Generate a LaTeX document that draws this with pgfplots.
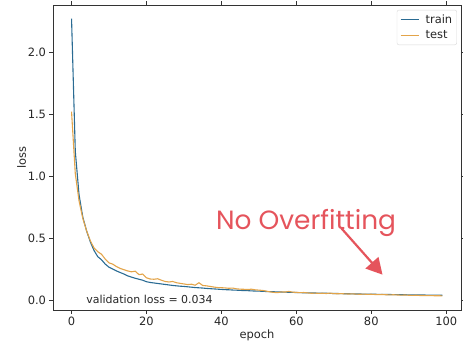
\documentclass[border=0pt]{standalone}
\usepackage{fontspec}
\setmainfont{DejaVu Sans}
\newfontfamily\annofont{Poppins}
\usepackage{pgfplots}
\pgfplotsset{compat=1.18}
\usetikzlibrary{arrows.meta}
\definecolor{trainc}{HTML}{2A6B93}
\definecolor{testc}{HTML}{E3A449}
\definecolor{annc}{HTML}{E5545C}
\definecolor{spine}{HTML}{333333}
\pgfplotstableread{
x train test
0 2.27 1.52
1 1.20 1.02
2 0.85 0.80
3 0.67 0.66
4 0.56 0.56
5 0.47 0.48
6 0.40 0.42
7 0.35 0.39
8 0.325 0.37
9 0.29 0.33
10 0.265 0.30
11 0.25 0.29
12 0.235 0.27
13 0.222 0.255
14 0.21 0.245
15 0.195 0.235
16 0.185 0.228
17 0.176 0.233
18 0.168 0.205
19 0.160 0.210
20 0.148 0.180
21 0.142 0.170
22 0.138 0.168
23 0.134 0.172
24 0.130 0.160
25 0.126 0.150
26 0.122 0.146
27 0.118 0.150
28 0.115 0.140
29 0.112 0.135
30 0.110 0.130
31 0.107 0.125
32 0.104 0.128
33 0.101 0.120
34 0.099 0.140
35 0.097 0.118
36 0.094 0.115
37 0.092 0.110
38 0.090 0.105
39 0.088 0.101
40 0.086 0.100
41 0.084 0.098
42 0.083 0.095
43 0.081 0.097
44 0.080 0.091
45 0.078 0.088
46 0.077 0.087
47 0.076 0.085
48 0.074 0.088
49 0.073 0.083
50 0.072 0.080
51 0.071 0.078
52 0.069 0.072
53 0.068 0.066
54 0.067 0.062
55 0.066 0.060
56 0.065 0.066
57 0.064 0.065
58 0.063 0.070
59 0.062 0.064
60 0.061 0.062
61 0.060 0.060
62 0.059 0.061
63 0.058 0.058
64 0.058 0.055
65 0.057 0.056
66 0.056 0.054
67 0.055 0.055
68 0.055 0.053
69 0.054 0.056
70 0.053 0.052
71 0.053 0.051
72 0.052 0.052
73 0.051 0.050
74 0.051 0.049
75 0.050 0.050
76 0.049 0.048
77 0.049 0.047
78 0.048 0.048
79 0.048 0.046
80 0.047 0.047
81 0.047 0.045
82 0.046 0.044
83 0.046 0.045
84 0.045 0.043
85 0.045 0.042
86 0.044 0.043
87 0.044 0.041
88 0.043 0.040
89 0.043 0.041
90 0.042 0.039
91 0.042 0.038
92 0.041 0.039
93 0.041 0.037
94 0.041 0.037
95 0.040 0.036
96 0.040 0.036
97 0.039 0.035
98 0.039 0.035
99 0.039 0.034
}\losstable
\begin{document}
\begin{tikzpicture}
\begin{axis}[
  at={(0,0)}, anchor=south west,
  scale only axis, width=408bp, height=305bp,
  xmin=-4.95, xmax=103.95, ymin=-0.08, ymax=2.38,
  xtick={0,20,40,60,80,100},
  ytick={0,0.5,1.0,1.5,2.0},
  yticklabel style={/pgf/number format/.cd, fixed, fixed zerofill, precision=1},
  /pgf/number format/assume math mode=true,
  tick align=outside, major tick length=3.5bp,
  tick style={spine, line width=0.6pt},
  axis line style={spine, line width=0.6pt},
  ticklabel style={font=\fontsize{11.5}{13}\selectfont, text=black!85},
  label style={font=\fontsize{11.5}{13}\selectfont, text=black!85},
  xlabel={epoch}, ylabel={loss},
  xlabel style={yshift=3bp},
  ylabel style={yshift=-5bp},
  legend cell align=left,
  legend image code/.code={\draw[#1] (0bp,0bp) -- (18bp,0bp);},
  legend style={at={(0.99,0.984)}, anchor=north east, draw=black!15, rounded corners=2pt,
    font=\fontsize{11.5}{13}\selectfont, text=black!85, inner xsep=3bp, inner ysep=3bp,
    row sep=3bp, nodes={inner sep=1.5bp},
    /tikz/every odd column/.append style={column sep=5bp}},
]
\addplot[trainc, line width=1.1pt, no markers] table[x=x, y=train] {\losstable};
\addlegendentry{train}
\addplot[testc, line width=1.1pt, no markers] table[x=x, y=test] {\losstable};
\addlegendentry{test}
\node[text=black!85, font=\fontsize{11}{13}\selectfont] at (axis cs:20.8,0.005) {validation loss = 0.034};
\node[text=annc, font=\annofont\fontsize{26.5}{30}\selectfont] at (axis cs:62.6,0.62) {No Overfitting};
\draw[annc, line width=2.2pt, -{Triangle[length=16bp, width=17bp]}] (axis cs:72,0.58) -- (axis cs:83,0.205);
\end{axis}
\pgfresetboundingbox
\path[use as bounding box] (-53bp,-40bp) rectangle (410bp,310bp);
\end{tikzpicture}
\end{document}
